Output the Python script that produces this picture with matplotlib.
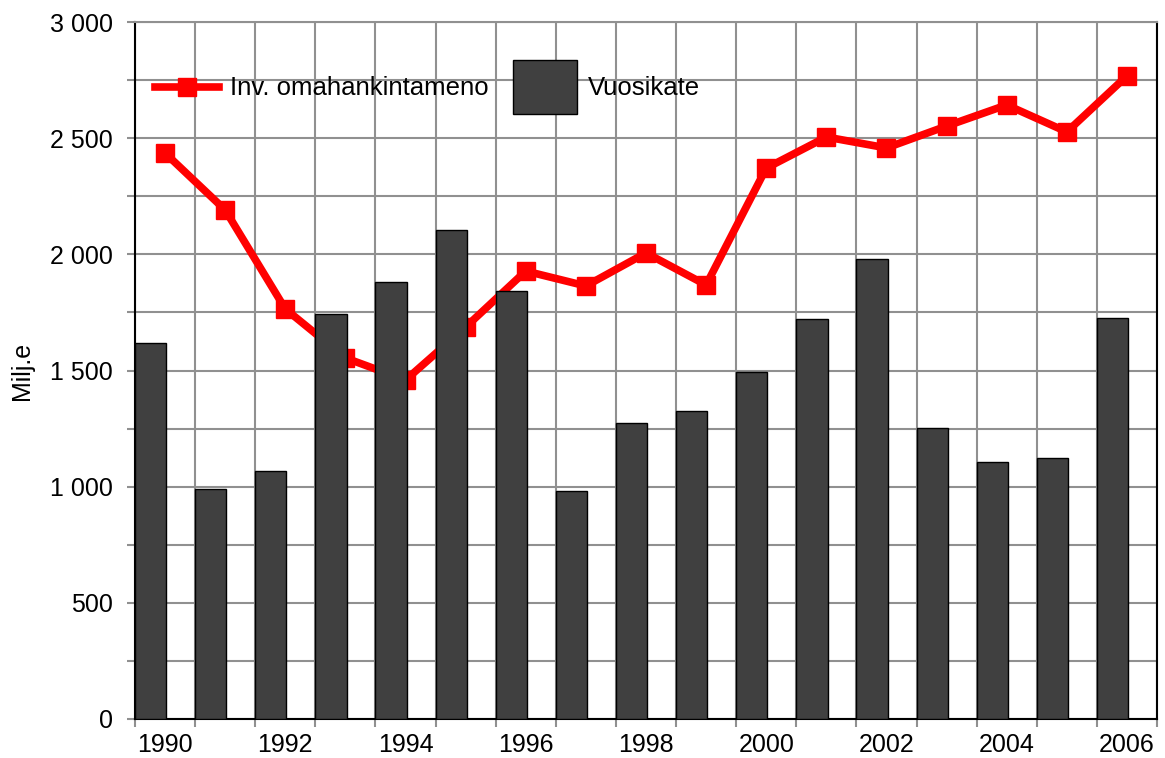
import matplotlib.pyplot as plt
from matplotlib.lines import Line2D
from matplotlib.patches import Rectangle
from matplotlib.legend_handler import HandlerLine2D
from matplotlib.ticker import MultipleLocator, FuncFormatter

plt.rcParams['font.family'] = ['Liberation Sans', 'DejaVu Sans']

years = list(range(1990, 2007))
vuosikate = [1618, 990, 1067, 1743, 1881, 2105, 1842, 981, 1274, 1326,
             1494, 1722, 1980, 1252, 1106, 1123, 1726]
inv_omahankinta = [2436, 2191, 1765, 1554, 1459, 1687, 1928, 1864, 2006, 1868,
                   2371, 2505, 2458, 2552, 2643, 2527, 2768]
year_labels = [str(y) if y % 2 == 0 else '' for y in years]


class CenteredLine(HandlerLine2D):
    # put the legend line in the middle of the handle box, like the patch
    def create_artists(self, legend, orig_handle, xdescent, ydescent,
                       width, height, fontsize, trans):
        arts = super().create_artists(legend, orig_handle, xdescent, ydescent,
                                      width, height, fontsize, trans)
        for a in arts:
            a.set_ydata([height / 2 - ydescent] * len(a.get_xdata()))
        return arts


fig = plt.figure(figsize=(11.65, 7.58), dpi=100)
ax = fig.add_axes([135 / 1165, 1 - 719 / 758, (1157 - 135) / 1165, (719 - 22) / 758])

ax.plot(years, inv_omahankinta, color='#ff0000', linewidth=5.5, marker='s',
        markersize=13, zorder=2)
ax.bar([y - 0.24 for y in years], vuosikate, width=0.52, color='#404040',
       edgecolor='black', linewidth=1, zorder=3)

ax.set_xlim(1989.5, 2006.5)
ax.set_ylim(0, 3000)

ax.set_xticks(years)
ax.set_xticklabels(year_labels)
ax.xaxis.set_minor_locator(MultipleLocator(1, offset=0.5))
ax.yaxis.set_major_locator(MultipleLocator(500))
ax.yaxis.set_minor_locator(MultipleLocator(250))
ax.yaxis.set_major_formatter(FuncFormatter(lambda v, p: f'{int(v):,}'.replace(',', ' ')))

ax.tick_params(axis='x', which='major', length=0, labelsize=18, pad=10)
ax.tick_params(axis='x', which='minor', length=6, color='#909090', width=1.5)
ax.tick_params(axis='y', which='both', length=6, color='#909090', width=1.5,
               labelsize=18, pad=10)

ax.grid(True, which='minor', axis='x', color='#909090', linewidth=1.5, zorder=0)
ax.grid(True, which='both', axis='y', color='#909090', linewidth=1.5, zorder=0)
ax.set_axisbelow(True)

for s in ['left', 'bottom', 'right']:
    ax.spines[s].set_color('black')
    ax.spines[s].set_linewidth(1.5)
ax.spines['top'].set_color('#909090')
ax.spines['top'].set_linewidth(1.5)

ax.set_ylabel('Milj.e', fontsize=18, labelpad=11)

line_handle = Line2D([], [], color='#ff0000', linewidth=5.5, marker='s', markersize=13)
bar_handle = Rectangle((0, 0), 1, 1, facecolor='#404040', edgecolor='black', linewidth=1)
ax.legend([line_handle, bar_handle], ['Inv. omahankintameno', 'Vuosikate'],
          loc='center left', bbox_to_anchor=((155 - 135) / 1022, (719 - 87) / 697),
          ncol=2, frameon=False, fontsize=18.5, borderpad=0, borderaxespad=0,
          handlelength=2.5, handleheight=2.8, handletextpad=0.43,
          columnspacing=0.93, handler_map={line_handle: CenteredLine()})

fig.savefig('out.png', dpi=100)
